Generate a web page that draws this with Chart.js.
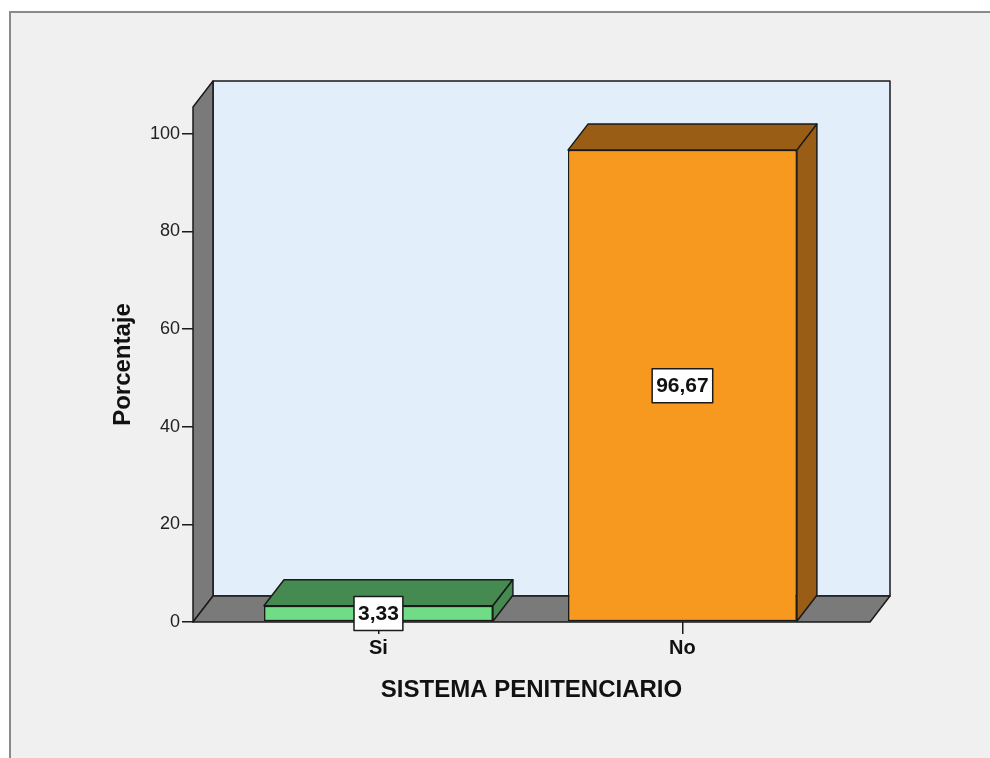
<!DOCTYPE html>
<html>
<head>
<meta charset="utf-8">
<script src="https://cdn.jsdelivr.net/npm/chart.js@4/dist/chart.umd.min.js"></script>
<style>
  body { margin: 0; background: #ffffff; }
  #frame {
    position: absolute; left: 9px; top: 11px; width: 990px; height: 760px;
    background: #f0f0f0; border-top: 2px solid #8a8a8a; border-left: 2px solid #8a8a8a;
  }
  #chart { position: absolute; left: 0; top: 0; }
</style>
</head>
<body>
<div id="frame"></div>
<canvas id="chart" width="990" height="758"></canvas>
<script>
// data
const categories = ['Si', 'No'];
const values = [3.33, 96.67];
const yTicks = [0, 20, 40, 60, 80, 100];

// look
const frontColors = ['#70dc85', '#f8991f'];
const darkColors = ['#448a51', '#9a5d15'];
const DX = 20, DY = 26;   // depth of the 3d effect
const FONT = '"Liberation Sans", Arial, sans-serif';

function poly(ctx, pts, fill) {
    ctx.beginPath();
    ctx.moveTo(pts[0][0], pts[0][1]);
    for (let i = 1; i < pts.length; i++) ctx.lineTo(pts[i][0], pts[i][1]);
    ctx.closePath();
    ctx.fillStyle = fill;
    ctx.fill();
    ctx.stroke();
}

// walls and floor behind the bars
const walls = {
    id: 'walls',
    beforeDatasetsDraw(chart) {
        const ctx = chart.ctx, a = chart.chartArea;
        ctx.save();
        ctx.lineWidth = 1.5;
        ctx.strokeStyle = '#1a1a1a';
        ctx.lineJoin = 'round';
        poly(ctx, [[a.left + DX, a.top - DY], [a.right + DX, a.top - DY],
                   [a.right + DX, a.bottom - DY], [a.left + DX, a.bottom - DY]], '#e2eefa');
        poly(ctx, [[a.left, a.top], [a.left + DX, a.top - DY],
                   [a.left + DX, a.bottom - DY], [a.left, a.bottom]], '#7a7a7a');
        poly(ctx, [[a.left, a.bottom], [a.left + DX, a.bottom - DY],
                   [a.right + DX, a.bottom - DY], [a.right, a.bottom]], '#7a7a7a');
        ctx.restore();
    }
};

// top and side faces of each bar, then the value boxes
const bars3d = {
    id: 'bars3d',
    afterDatasetsDraw(chart) {
        const ctx = chart.ctx;
        const meta = chart.getDatasetMeta(0);
        ctx.save();
        ctx.lineWidth = 1.5;
        ctx.strokeStyle = '#1a1a1a';
        ctx.lineJoin = 'round';
        meta.data.forEach((bar, i) => {
            const l = bar.x - bar.width / 2, r = bar.x + bar.width / 2;
            const t = bar.y, b = bar.base;
            poly(ctx, [[l, t], [l + DX, t - DY], [r + DX, t - DY], [r, t]], darkColors[i]);
            poly(ctx, [[r, t], [r + DX, t - DY], [r + DX, b - DY], [r, b]], darkColors[i]);
        });
        ctx.font = 'bold 21px ' + FONT;
        ctx.textAlign = 'center';
        ctx.textBaseline = 'middle';
        meta.data.forEach((bar, i) => {
            const txt = values[i].toFixed(2).replace('.', ',');
            const cy = (bar.y + bar.base) / 2;
            const w = ctx.measureText(txt).width + 8, h = 34;
            ctx.fillStyle = '#ffffff';
            ctx.fillRect(bar.x - w / 2, cy - h / 2, w, h);
            ctx.lineWidth = 1.5;
            ctx.strokeRect(bar.x - w / 2, cy - h / 2, w, h);
            ctx.fillStyle = '#111111';
            ctx.fillText(txt, bar.x, cy + 1);
        });
        ctx.restore();
    }
};

new Chart(document.getElementById('chart'), {
    type: 'bar',
    data: {
        datasets: [{
            data: values.map((v, i) => ({ x: i, y: v })),
            backgroundColor: frontColors,
            borderColor: '#1a1a1a',
            borderWidth: 1.5,
            borderSkipped: false,
            categoryPercentage: 1,
            barPercentage: 0.753
        }]
    },
    options: {
        responsive: false,
        animation: false,
        layout: { padding: { left: 10, right: 120, top: 107, bottom: 0 } },
        plugins: {
            legend: { display: false },
            tooltip: { enabled: false }
        },
        scales: {
            x: {
                type: 'linear',
                min: -0.61,
                max: 1.617,
                offset: false,
                afterFit: s => { s.height = 136; },
                afterBuildTicks: s => { s.ticks = categories.map((c, i) => ({ value: i })); },
                border: { display: false },
                grid: { offset: false, drawOnChartArea: false, drawTicks: true, tickLength: 12, color: '#1a1a1a', lineWidth: 1.5 },
                ticks: {
                    padding: 2,
                    color: '#111',
                    font: { family: FONT, size: 20, weight: 'bold' },
                    callback: v => categories[v]
                },
                title: {
                    display: true,
                    text: 'SISTEMA PENITENCIARIO',
                    color: '#111',
                    font: { family: FONT, size: 24, weight: 'bold' },
                    padding: { top: 0, bottom: 53 }
                }
            },
            y: {
                min: 0,
                max: 105.5,
                afterFit: s => { s.width = 183; },
                afterBuildTicks: s => { s.ticks = yTicks.map(v => ({ value: v })); },
                border: { display: false },
                grid: { drawOnChartArea: false, drawTicks: true, tickLength: 11, color: '#1a1a1a', lineWidth: 1.5 },
                ticks: {
                    padding: 2,
                    color: '#222',
                    font: { family: FONT, size: 18 }
                },
                title: {
                    display: true,
                    text: 'Porcentaje',
                    color: '#111',
                    font: { family: FONT, size: 24, weight: 'bold' },
                    padding: { top: 99, bottom: 0 }
                }
            }
        }
    },
    plugins: [walls, bars3d]
});
</script>
</body>
</html>
